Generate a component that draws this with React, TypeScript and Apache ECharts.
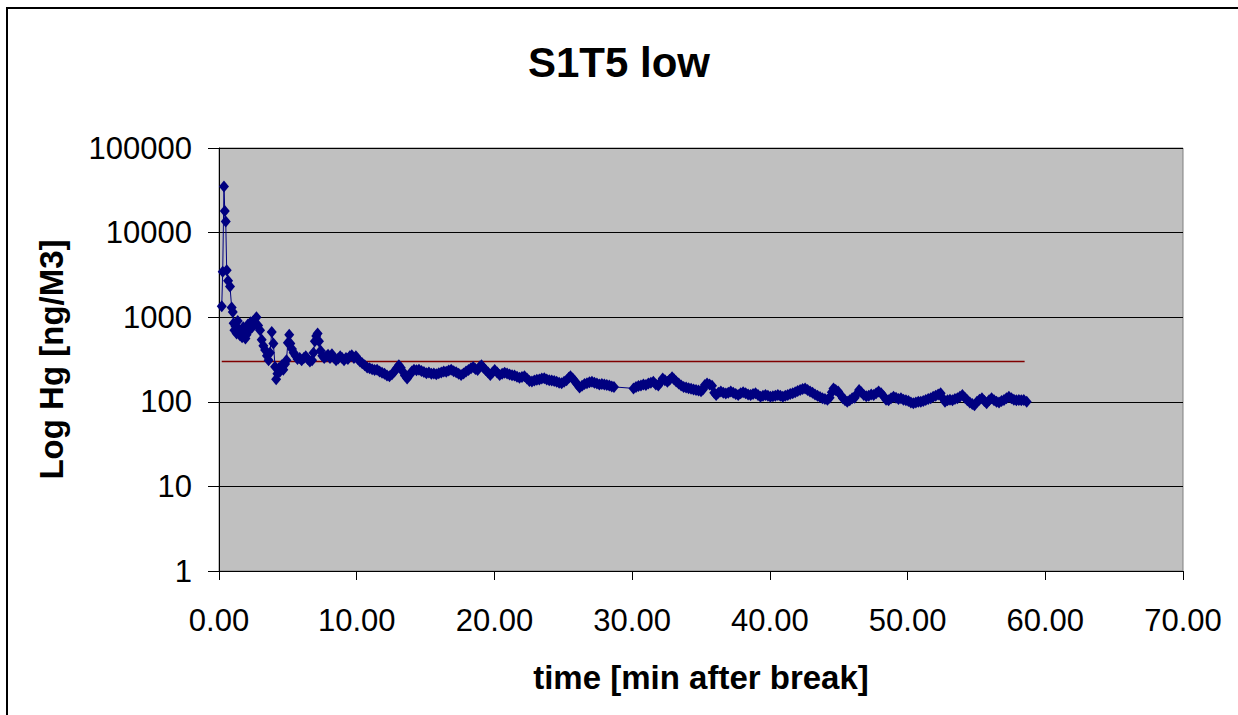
import React, { useEffect, useRef } from "react";
import * as echarts from "echarts";

// [time (min after break), Hg (ng/M3)]
const hgEarly: [number, number][] = [
  [0.2, 1350], [0.27, 3450], [0.36, 35000], [0.42, 18000], [0.49, 13500], [0.56, 3600], [0.66, 2700], [0.8, 2300],
  [0.92, 1300], [1.0, 1150], [1.06, 850], [1.12, 700], [1.2, 780], [1.28, 640], [1.36, 900], [1.44, 720],
  [1.52, 610], [1.6, 680], [1.68, 580], [1.76, 760], [1.84, 650], [1.92, 560], [2.0, 620], [2.1, 820],
  [2.2, 700], [2.3, 870], [2.4, 760], [2.5, 900], [2.6, 820], [2.72, 1000], [2.84, 800], [2.98, 700],
  [3.1, 540], [3.22, 460], [3.35, 410], [3.48, 350], [3.6, 310], [3.7, 380], [3.83, 670], [3.95, 490],
  [4.07, 260], [4.15, 185], [4.24, 215], [4.34, 250], [4.44, 230], [4.56, 270], [4.67, 240], [4.8, 280],
  [4.9, 310], [5.0, 500], [5.1, 620], [5.18, 490], [5.3, 420], [5.42, 380], [5.56, 350], [5.7, 320],
  [5.86, 330], [6.0, 310], [6.16, 330], [6.3, 345], [6.44, 320], [6.6, 300], [6.76, 310], [6.86, 380],
  [6.96, 520], [7.06, 600], [7.16, 640], [7.26, 520], [7.38, 400], [7.5, 350], [7.64, 330], [7.78, 345],
  [7.92, 360], [8.06, 330], [8.2, 365], [8.36, 330], [8.5, 310], [8.66, 325], [8.8, 345], [8.94, 330],
  [9.08, 310], [9.22, 330], [9.36, 320], [9.5, 345], [9.64, 355], [9.8, 330], [9.94, 345], [10.08, 320],
  [10.24, 300],
];

const hgMiddle: [number, number][] = [
  [10.4, 285], [10.58, 270], [10.76, 255], [10.94, 250], [11.12, 242], [11.3, 238], [11.48, 240], [11.66, 228],
  [11.84, 220], [12.02, 215], [12.2, 205], [12.38, 200], [12.56, 212], [12.74, 228], [12.9, 250], [13.06, 270],
  [13.2, 252], [13.34, 228], [13.5, 205], [13.66, 188], [13.82, 205], [14.0, 228], [14.16, 240], [14.34, 236],
  [14.52, 240], [14.7, 232], [14.88, 225], [15.06, 218], [15.24, 222], [15.42, 214], [15.6, 216], [15.78, 212],
  [15.96, 218], [16.14, 222], [16.32, 228], [16.5, 226], [16.68, 234], [16.86, 240], [17.04, 230], [17.22, 224],
  [17.4, 215], [17.58, 208], [17.76, 216], [17.94, 228], [18.12, 238], [18.3, 250], [18.46, 258], [18.62, 245],
  [18.78, 238], [18.94, 262], [19.06, 270], [19.2, 252], [19.36, 238], [19.54, 222], [19.7, 208], [19.86, 222],
  [20.02, 238], [20.2, 222], [20.38, 208], [20.56, 214], [20.74, 220], [20.92, 216], [21.1, 210], [21.28, 206],
  [21.46, 204], [21.64, 198], [21.82, 192], [22.0, 196], [22.18, 200], [22.36, 188], [22.54, 176], [22.72, 174],
  [22.9, 178], [23.08, 182], [23.26, 184], [23.44, 188], [23.62, 190], [23.8, 184], [23.98, 180], [24.16, 178],
  [24.34, 176], [24.52, 172], [24.7, 168], [24.88, 166], [25.06, 172], [25.24, 180], [25.4, 192], [25.52, 200],
  [25.68, 188], [25.86, 174], [26.02, 160], [26.18, 148], [26.36, 155], [26.54, 162], [26.72, 166], [26.9, 170],
  [27.08, 172], [27.26, 168], [27.44, 164], [27.62, 160], [27.8, 162], [27.98, 160], [28.16, 158], [28.34, 156],
  [28.52, 152], [28.68, 150],
];

const hgLate: [number, number][] = [
  [30.1, 144], [30.28, 150], [30.46, 154], [30.64, 156], [30.82, 160], [31.0, 158], [31.18, 164], [31.36, 168],
  [31.54, 172], [31.72, 160], [31.9, 156], [32.06, 170], [32.22, 188], [32.38, 180], [32.56, 172], [32.72, 182],
  [32.9, 195], [33.04, 185], [33.2, 174], [33.38, 165], [33.56, 156], [33.74, 150], [33.92, 148], [34.1, 145],
  [34.28, 143], [34.46, 140], [34.64, 138], [34.82, 136], [35.0, 133], [35.14, 140], [35.28, 158], [35.44, 165],
  [35.62, 160], [35.8, 155], [35.96, 128], [36.1, 120], [36.26, 128], [36.44, 132], [36.62, 128], [36.8, 125],
  [36.98, 128], [37.16, 132], [37.34, 128], [37.52, 124], [37.7, 120], [37.88, 126], [38.06, 130], [38.24, 126],
  [38.42, 122], [38.6, 120], [38.78, 124], [38.96, 126], [39.14, 120], [39.32, 115], [39.5, 118], [39.68, 120],
  [39.86, 118], [40.04, 115], [40.22, 116], [40.4, 118], [40.58, 120], [40.76, 118], [40.94, 115], [41.12, 118],
  [41.3, 120], [41.48, 124], [41.66, 126], [41.84, 130], [42.02, 134], [42.2, 138], [42.38, 142], [42.56, 144],
  [42.74, 138], [42.92, 132], [43.1, 128], [43.28, 122], [43.46, 118], [43.64, 114], [43.82, 110], [44.0, 108],
  [44.18, 106], [44.34, 112], [44.5, 130], [44.62, 144], [44.78, 138], [44.96, 132], [45.14, 120], [45.3, 110],
  [45.46, 104], [45.62, 100], [45.8, 104], [45.98, 110], [46.16, 112], [46.32, 124], [46.48, 138], [46.64, 130],
  [46.82, 120], [47.0, 116], [47.18, 118], [47.36, 122], [47.54, 120], [47.72, 126], [47.9, 132], [48.08, 126],
  [48.26, 116], [48.44, 106], [48.62, 104], [48.8, 110], [48.98, 115], [49.16, 112], [49.34, 108], [49.52, 110],
  [49.7, 106], [49.88, 104], [50.06, 102], [50.24, 98], [50.42, 96], [50.6, 98], [50.78, 100], [50.96, 100],
  [51.14, 102], [51.32, 105], [51.5, 108], [51.68, 110], [51.86, 115], [52.04, 118], [52.22, 122], [52.4, 126],
  [52.56, 110], [52.72, 100], [52.9, 104], [53.08, 106], [53.26, 104], [53.44, 108], [53.62, 110], [53.8, 115],
  [53.98, 120], [54.16, 112], [54.34, 104], [54.52, 98], [54.7, 94], [54.86, 91], [55.04, 100], [55.22, 106],
  [55.4, 110], [55.58, 102], [55.74, 96], [55.92, 104], [56.1, 110], [56.28, 104], [56.46, 100], [56.64, 98],
  [56.82, 102], [57.0, 105], [57.18, 110], [57.36, 115], [57.54, 110], [57.72, 106], [57.9, 104], [58.08, 105],
  [58.26, 104], [58.44, 105], [58.65, 100],
];

const limitLine: [number, number][] = [
  [0.2, 300], [16.8, 300], [34.9, 300], [51.8, 300], [58.5, 300],
];

const chartTitle = "S1T5 low";
const xAxisTitle = "time [min after break]";
const yAxisTitle = "Log Hg [ng/M3]";

const FONT = "'Liberation Sans', Arial, sans-serif";

export default function App() {
  const ref = useRef<HTMLDivElement>(null);

  useEffect(() => {
    if (!ref.current) return;
    const chart = echarts.init(ref.current, null, { renderer: "svg" });
    const hgAll = [...hgEarly, ...hgMiddle, ...hgLate];
    chart.setOption({
      animation: false,
      backgroundColor: "#ffffff",
      textStyle: { fontFamily: FONT },
      title: {
        text: chartTitle,
        left: "center",
        top: 36,
        textStyle: { fontFamily: FONT, fontSize: 42, fontWeight: "bold", color: "#000" },
      },
      grid: {
        left: 219,
        top: 148,
        width: 964,
        height: 423,
        show: true,
        backgroundColor: "#C0C0C0",
        borderColor: "#808080",
        borderWidth: 1,
      },
      xAxis: {
        type: "value",
        min: 0,
        max: 70,
        interval: 10,
        name: xAxisTitle,
        nameLocation: "middle",
        nameGap: 90,
        nameTextStyle: { fontFamily: FONT, fontSize: 33, fontWeight: "bold", color: "#000" },
        axisLine: { show: true, onZero: false, lineStyle: { color: "#000", width: 1 } },
        axisTick: { show: true, inside: false, length: 9, lineStyle: { color: "#000" } },
        axisLabel: {
          margin: 34,
          fontFamily: FONT,
          fontSize: 31,
          color: "#000",
          formatter: (v: number) => v.toFixed(2),
        },
        splitLine: { show: false },
      },
      yAxis: {
        type: "log",
        logBase: 10,
        min: 1,
        max: 100000,
        name: yAxisTitle,
        nameLocation: "middle",
        nameGap: 151,
        nameTextStyle: { fontFamily: FONT, fontSize: 33, fontWeight: "bold", color: "#000" },
        axisLine: { show: true, lineStyle: { color: "#000", width: 1 } },
        axisTick: { show: true, inside: false, length: 11, lineStyle: { color: "#000" } },
        axisLabel: {
          margin: 27,
          fontFamily: FONT,
          fontSize: 31,
          color: "#000",
          formatter: (v: number) => String(Math.round(v)),
        },
        splitLine: { show: true, lineStyle: { color: "#000", width: 1 } },
        minorTick: { show: false },
      },
      graphic: [
        {
          type: "rect",
          shape: { x: 7, y: 8, width: 1260, height: 730 },
          style: { fill: "none", stroke: "#000", lineWidth: 2 },
          silent: true,
          z: 100,
        },
      ],
      series: [
        {
          type: "line",
          name: "limit",
          data: limitLine,
          showSymbol: false,
          symbol: "none",
          lineStyle: { color: "#800000", width: 1.5 },
          z: 2,
        },
        {
          type: "line",
          name: "Hg",
          data: hgAll,
          symbol: "diamond",
          symbolSize: [10, 12],
          showAllSymbol: true,
          itemStyle: { color: "#000080", borderColor: "#000080", borderWidth: 0 },
          lineStyle: { color: "#000080", width: 1 },
          z: 3,
        },
      ],
    });
    return () => chart.dispose();
  }, []);

  return (
    <div
      ref={ref}
      style={{ position: "absolute", left: 0, top: 0, width: 1238, height: 715, background: "#fff" }}
    />
  );
}
